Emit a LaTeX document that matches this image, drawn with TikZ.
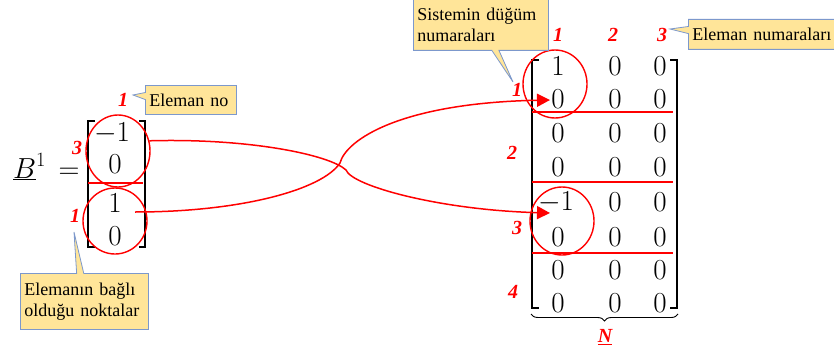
\RequirePackage{fix-cm}
\documentclass[tikz,border=0pt]{standalone}
\usepackage{fontspec}
\setmainfont{Liberation Serif}
\usetikzlibrary{shapes.callouts,shapes.geometric,arrows.meta,decorations.pathreplacing}
\definecolor{markred}{RGB}{255,0,0}
\definecolor{calloutfill}{RGB}{255,229,153}
\definecolor{calloutedge}{RGB}{124,152,204}
\begin{document}
\begin{tikzpicture}[x=1pt,y=-1pt,
  entry/.style={font=\fontsize{29}{34}\selectfont, inner sep=0pt},
  idx/.style={text=markred, font=\fontsize{20}{24}\selectfont\bfseries\itshape, inner sep=0pt},
  bracket/.style={draw=black, line width=2.6pt},
  ring/.style={draw=markred, line width=1.4pt, ellipse, inner sep=0pt},
  sepline/.style={draw=markred, line width=1.8pt},
  link/.style={draw=markred, line width=1.5pt},
  tip/.style={-{Triangle[length=13pt,width=13pt]}},
  note/.style={rectangle callout, draw=calloutedge, fill=calloutfill, line width=0.8pt,
    font=\fontsize{18}{21}\selectfont, align=left, anchor=north west,
    inner xsep=4pt, inner ysep=2pt}]
\useasboundingbox (0,0) rectangle (834,353);

% ---- element matrix B^1 ----
\node[entry, anchor=base west] (lhsB) at (13,178) {$\underline{B}^1$};
\node[entry, anchor=base] (lhsEq) at (69,178) {$=$};
\draw[bracket] (95,121) -| (88,247) -- (95,247);
\draw[bracket] (139,121) -| (145,247) -- (139,247);
\node[entry] (l1) at (112,133) {$-1$};
\node[entry] (l2) at (115,164) {$0$};
\node[entry] (l3) at (115,203) {$1$};
\node[entry] (l4) at (115,236) {$0$};
\draw[sepline] (88,183) -- (143,183);
\node[ring, minimum width=64pt, minimum height=72pt] (lt) at (118,151) {};
\node[ring, minimum width=64pt, minimum height=66pt] (lb) at (115,221) {};
\node[idx] (ln3) at (77,148) {3};
\node[idx] (ln1) at (75,216) {1};
\node[idx] (le1) at (123,100) {1};

% ---- system matrix ----
\draw[bracket] (539,60) -| (532,308) -- (539,308);
\draw[bracket] (670,60) -| (677,308) -- (670,308);
\foreach \r/\y in {1/66,2/99,3/133,4/167,5/202,6/237,7/270,8/303}{
  \foreach \c/\x in {1/558,2/615,3/660}{
    \ifnum\r\c=11
      \node[entry] (r\r\c) at (\x,\y) {$1$};
    \else\ifnum\r\c=51
      \node[entry] (r\r\c) at (556,\y) {$-1$};
    \else
      \node[entry] (r\r\c) at (\x,\y) {$0$};
    \fi\fi
  }
}
\draw[sepline] (532,112) -- (673,112);
\draw[sepline] (532,182) -- (673,182);
\draw[sepline] (532,253) -- (673,253);
\node[ring, minimum width=64pt, minimum height=68pt] (rt) at (555,84) {};
\node[ring, minimum width=64pt, minimum height=68pt] (rb) at (562,221) {};
\node[idx] (c1) at (558,35) {1};
\node[idx] (c2) at (613,35) {2};
\node[idx] (c3) at (662,35) {3};
\node[idx] (n1) at (517,90) {1};
\node[idx] (n2) at (512,153) {2};
\node[idx] (n3) at (517,228) {3};
\node[idx] (n4) at (513,292) {4};
\draw[decorate, decoration={brace, mirror, amplitude=7pt}, line width=0.9pt]
  (531,314) -- (678,314);
\node[idx] (nn) at (605,337) {\underline{N}};

% ---- connectors from element rows to system rows ----
\coordinate (s1) at (135,212);
\coordinate (a1) at (550,100);
\coordinate (a2) at (550,213);
\draw[link, tip] (lt.18) .. controls (250,138) and (330,155) .. (346,170)
  .. controls (352,186) and (440,210) .. (a2);
\draw[link, tip] (s1) .. controls (240,212) and (322,190) .. (340,163)
  .. controls (346,140) and (400,103) .. (a1);

% ---- callouts ----
\node[note, text width=83pt, minimum height=29pt, callout absolute pointer={(133,95)}]
  (cn1) at (145,85) {Eleman no};
\node[note, text width=120pt, minimum height=56pt, callout absolute pointer={(74,232)}]
  (cn2) at (20,273) {Elemanın bağlı\\olduğu noktalar};
\node[note, text width=127pt, minimum height=52pt, callout absolute pointer={(513,82)}]
  (cn3) at (413,-2) {Sistemin düğüm\\numaraları};
\node[note, text width=150pt, minimum height=30pt, callout absolute pointer={(670,29)}]
  (cn4) at (688,19) {Eleman numaraları};
\end{tikzpicture}
\end{document}
